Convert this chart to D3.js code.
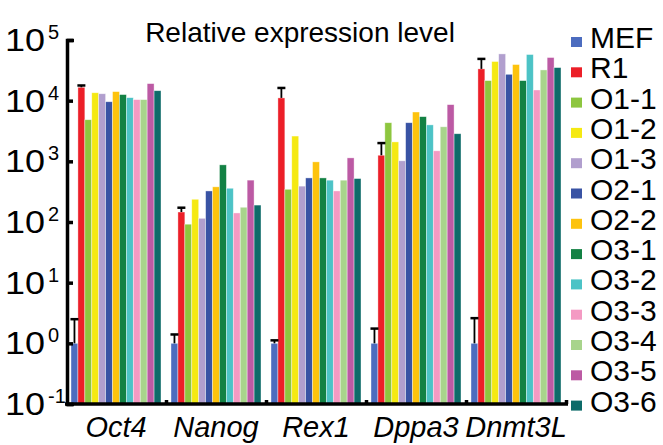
<!DOCTYPE html>
<html>
<head>
<meta charset="utf-8">
<script src="https://cdn.jsdelivr.net/npm/d3@7.9.0/dist/d3.min.js"></script>
<style>
  html, body { margin: 0; padding: 0; background: #fff; }
  svg { display: block; font-family: "Liberation Sans", Arial, Helvetica, sans-serif; }
</style>
</head>
<body>
<svg id="chart" width="663" height="445"></svg>
<script>
// genes on the x axis
const genes = ['Oct4', 'Nanog', 'Rex1', 'Dppa3', 'Dnmt3L'];

// one array per cell line, values in gene order
const mef  = [1, 1, 1, 1, 1];
const r1   = [16600, 146, 11100, 1260, 33400];
const o1_1 = [4850, 92, 346, 4330, 21400];
const o1_2 = [13500, 237, 2610, 2090, 44200];
const o1_3 = [13000, 115, 390, 1020, 59000];
const o2_1 = [9600, 325, 533, 4330, 27200];
const o2_2 = [14100, 380, 980, 6500, 39400];
const o3_1 = [12600, 875, 533, 5450, 21400];
const o3_2 = [11200, 360, 489, 3990, 57600];
const o3_3 = [10400, 141, 325, 1490, 15000];
const o3_4 = [10400, 175, 489, 3710, 32100];
const o3_5 = [19100, 490, 1140, 8600, 51400];
const o3_6 = [14600, 190, 520, 2850, 35100];

// upper end of the error bars (only MEF and R1 have them)
const mefErr = [2.5, 1.4, 1.12, 1.75, 2.6];
const r1Err  = [17800, 172, 16200, 2000, 48800];

const seriesNames = ['MEF', 'R1', 'O1-1', 'O1-2', 'O1-3', 'O2-1', 'O2-2',
                     'O3-1', 'O3-2', 'O3-3', 'O3-4', 'O3-5', 'O3-6'];
const seriesValues = [mef, r1, o1_1, o1_2, o1_3, o2_1, o2_2,
                      o3_1, o3_2, o3_3, o3_4, o3_5, o3_6];
const colors = ['#4c6cbf', '#ec1f28', '#8dc63f', '#f5e912', '#b19fce', '#3953a4', '#fdc30e',
                '#138144', '#4cc3c6', '#f49ac3', '#a8d48c', '#bc5aa4', '#0d6b69'];

const yTicks = [0.1, 1, 10, 100, 1000, 10000, 100000];

const svg = d3.select('#chart');

const y = d3.scaleLog().domain([0.1, 1e5]).range([404, 40]);
const x = d3.scaleBand().domain(genes).range([66, 566]).paddingInner(0.1).paddingOuter(0.05);
const xs = d3.scaleBand().domain(seriesNames).range([0, x.bandwidth()]);
const xLin = d3.scaleLinear().domain([0, genes.length]).range([66, 566]);

// bars
genes.forEach((gene, gi) => {
    let g = svg.append('g').attr('transform', `translate(${x(gene)},0)`);
    seriesNames.forEach((name, si) => {
        let v = seriesValues[si][gi];
        g.append('rect')
            .attr('x', xs(name))
            .attr('y', y(v))
            .attr('width', xs.bandwidth())
            .attr('height', y(0.1) - y(v))
            .attr('fill', colors[si])
            .attr('stroke', '#fff')
            .attr('stroke-opacity', 0.55)
            .attr('stroke-width', 0.7);
    });

    // error bars
    [[0, mef, mefErr], [1, r1, r1Err]].forEach(([si, vals, errs]) => {
        let cx = xs(seriesNames[si]) + xs.bandwidth() / 2;
        g.append('line')
            .attr('x1', cx).attr('x2', cx)
            .attr('y1', y(vals[gi])).attr('y2', y(errs[gi]))
            .attr('stroke', '#000').attr('stroke-width', 1.8);
        g.append('line')
            .attr('x1', cx - 4).attr('x2', cx + 4)
            .attr('y1', y(errs[gi])).attr('y2', y(errs[gi]))
            .attr('stroke', '#000').attr('stroke-width', 2.5);
    });
});

// left axis, ticks pointing inward
const yAxis = d3.axisLeft(y).tickValues(yTicks).tickSize(-6).tickSizeOuter(-7).tickFormat('');
const yG = svg.append('g').attr('transform', 'translate(67,0)').call(yAxis);
yG.selectAll('path, line').attr('stroke', '#000').attr('stroke-width', 3.5);

// bottom axis with small marks between groups
const xAxis = d3.axisBottom(xLin).tickValues(d3.range(1, genes.length + 1)).tickSize(-4).tickSizeOuter(0).tickFormat('');
const xG = svg.append('g').attr('transform', 'translate(0,404)').call(xAxis);
xG.select('.domain').attr('d', 'M65,0H568');
xG.selectAll('path, line').attr('stroke', '#000').attr('stroke-width', 3.5);

// y tick labels as 10 with exponent
yTicks.forEach((t) => {
    let ty = y(t);
    let exp = Math.round(Math.log10(t));
    let lab = svg.append('g');
    lab.append('text')
        .attr('x', 5).attr('y', ty + 11)
        .attr('font-size', 32)
        .attr('textLength', 40)
        .attr('lengthAdjust', 'spacingAndGlyphs')
        .attr('fill', '#000')
        .text('10');
    lab.append('text')
        .attr('x', 48).attr('y', ty - 1)
        .attr('font-size', 20)
        .attr('fill', '#000')
        .text(exp);
});

// gene labels
svg.append('g').selectAll('text')
    .data(genes)
    .join('text')
    .attr('x', (d) => x(d) + x.bandwidth() / 2)
    .attr('y', 437)
    .attr('text-anchor', 'middle')
    .attr('font-size', 29)
    .attr('font-style', 'italic')
    .attr('fill', '#000')
    .text((d) => d);

// title
svg.append('text')
    .attr('x', 300).attr('y', 42)
    .attr('text-anchor', 'middle')
    .attr('font-size', 28)
    .attr('fill', '#000')
    .text('Relative expression level');

// legend
const legend = svg.append('g');
seriesNames.forEach((name, i) => {
    let by = 48 + i * 30.3;
    legend.append('rect')
        .attr('x', 571).attr('y', by - 11)
        .attr('width', 11).attr('height', 10)
        .attr('fill', colors[i]);
    legend.append('text')
        .attr('x', 590).attr('y', by)
        .attr('font-size', 30)
        .attr('fill', '#000')
        .text(name);
});
</script>
</body>
</html>
